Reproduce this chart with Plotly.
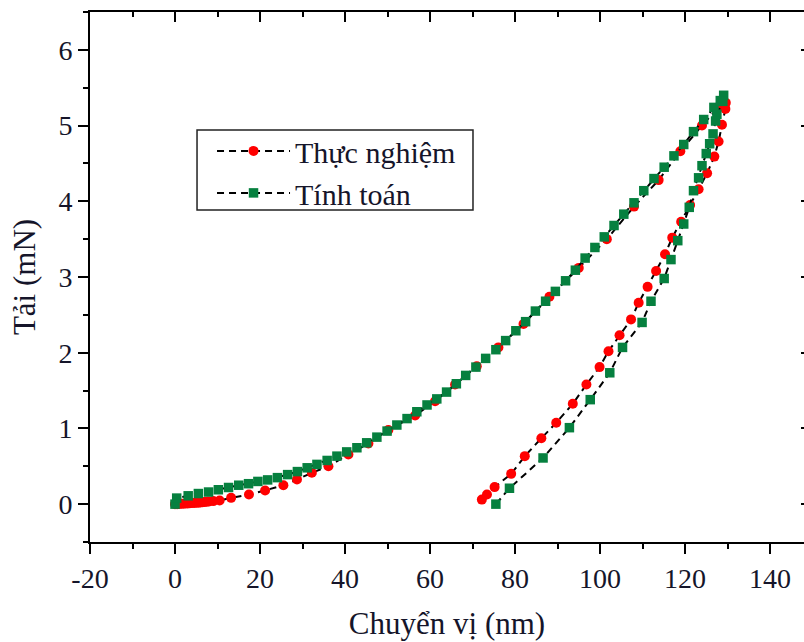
import plotly.graph_objects as go

# Thực nghiệm (measured) – loading branch
exp_load_x = [0.0, 0.5, 1.0, 1.5, 2.0, 2.5, 3.0, 3.5, 4.0, 4.5, 5.0, 5.5, 6.0, 6.5, 7.0, 7.5, 8.0, 9.0,
              10.5, 13.2, 17.4, 21.2, 25.5, 28.7, 32.2, 36.1, 40.8, 45.5, 50.2, 56.5, 61.2, 65.9,
              71.0, 76.1, 82.0, 88.1, 95.0, 101.6, 108.0, 113.8, 118.9, 124.0, 128.0, 129.6]
exp_load_y = [0.0, 0.0, 0.003, 0.005, 0.006, 0.008, 0.01, 0.012, 0.014, 0.016, 0.018, 0.02, 0.022, 0.025, 0.028, 0.031, 0.034, 0.04,
              0.049, 0.083, 0.128, 0.181, 0.25, 0.326, 0.414, 0.50, 0.657, 0.80, 0.98, 1.17, 1.36, 1.58,
              1.82, 2.07, 2.38, 2.74, 3.12, 3.50, 3.93, 4.28, 4.66, 5.00, 5.25, 5.30]
# Thực nghiệm (measured) – unloading branch
exp_unload_x = [129.5, 128.7, 127.9, 126.9, 125.2, 123.2, 121.2, 119.1, 117.0, 115.3, 113.2, 111.2, 109.1,
                107.3, 104.6, 102.0, 99.9, 96.8, 93.6, 89.7, 86.2, 82.3, 79.1, 75.2, 73.4, 72.2]
exp_unload_y = [5.22, 5.01, 4.79, 4.59, 4.37, 4.16, 3.95, 3.73, 3.52, 3.30, 3.08, 2.87, 2.66,
                2.44, 2.23, 2.02, 1.81, 1.58, 1.325, 1.075, 0.87, 0.634, 0.40, 0.225, 0.128, 0.06]

# Tính toán (computed) – loading branch
sim_load_x = [0.0, 0.4, 3.1, 5.5, 7.9, 10.2, 12.6, 15.0, 17.3, 19.5, 21.8, 24.1, 26.5, 28.8, 31.1, 33.4,
              35.8, 38.1, 40.4, 42.8, 45.1, 47.5, 49.9, 52.2, 54.6, 56.9, 59.3, 61.6, 63.9, 66.2, 68.4,
              70.8, 73.1, 75.5, 77.8, 80.2, 82.5, 84.8, 87.2, 89.5, 91.9, 94.2, 96.5, 98.8, 101.0, 103.3,
              105.6, 108.0, 110.3, 112.7, 115.1, 117.4, 119.7, 122.0, 124.4, 126.8, 128.3, 129.1]
sim_load_y = [0.0, 0.08, 0.11, 0.14, 0.16, 0.19, 0.22, 0.25, 0.27, 0.30, 0.32, 0.35, 0.39, 0.43, 0.48, 0.525,
              0.577, 0.634, 0.69, 0.745, 0.81, 0.885, 0.965, 1.045, 1.13, 1.22, 1.31, 1.39, 1.48, 1.59, 1.70,
              1.81, 1.925, 2.04, 2.16, 2.29, 2.41, 2.55, 2.68, 2.81, 2.95, 3.09, 3.25, 3.39, 3.53, 3.68,
              3.83, 3.98, 4.14, 4.30, 4.45, 4.60, 4.75, 4.92, 5.08, 5.24, 5.33, 5.40]
# Tính toán (computed) – unloading branch
sim_unload_x = [128.9, 127.5, 127.2, 126.6, 125.8, 125.0, 124.0, 123.2, 122.0, 121.0, 119.7, 118.3,
                116.7, 115.1, 112.0, 109.9, 105.3, 102.3, 97.7, 92.8, 86.6, 78.7, 75.5]
sim_unload_y = [5.32, 5.15, 5.06, 4.89, 4.76, 4.63, 4.47, 4.31, 4.14, 3.92, 3.70, 3.48,
                3.23, 2.98, 2.68, 2.40, 2.07, 1.735, 1.38, 1.01, 0.61, 0.21, 0.0]

series_names = ["Thực nghiệm", "Tính toán"]
x_ticks = [-20, 0, 20, 40, 60, 80, 100, 120, 140]
x_tick_text = ["-20", "0", "20", "40", "60", "80", "100", "120", "140"]
y_ticks = [0, 1, 2, 3, 4, 5, 6]

FONT = "Liberation Serif, Times New Roman, serif"
TXT = "#15152a"
RED = "#ff0000"
GREEN = "#06803f"
DASH = "7px,5px"

fig = go.Figure()

fig.add_trace(go.Scatter(
    x=exp_load_x + exp_unload_x, y=exp_load_y + exp_unload_y,
    mode="lines+markers", name=series_names[0],
    line=dict(color="black", width=2, dash=DASH),
    marker=dict(symbol="circle", size=10, color=RED, line=dict(width=0)),
))
fig.add_trace(go.Scatter(
    x=sim_load_x + sim_unload_x, y=sim_load_y + sim_unload_y,
    mode="lines+markers", name=series_names[1],
    line=dict(color="black", width=2, dash=DASH),
    marker=dict(symbol="square", size=9.5, color=GREEN, line=dict(width=0)),
))
# empty trace so the mirrored top/right axes get drawn
fig.add_trace(go.Scatter(x=[None], y=[None], xaxis="x2", yaxis="y2",
                         showlegend=False, hoverinfo="skip"))

axis_common = dict(linewidth=2, linecolor="black", showgrid=False,
                   zeroline=False, tickwidth=2, tickcolor="black", ticklen=10)
X_RANGE = [-20, 148]
Y_RANGE = [-0.5, 6.5]

fig.update_layout(
    width=804, height=642,
    margin=dict(l=90, r=0, t=12, b=100),
    paper_bgcolor="white", plot_bgcolor="white",
    font=dict(family=FONT, color=TXT, size=28),
    xaxis=dict(range=X_RANGE, tickvals=x_ticks, ticktext=x_tick_text, ticks="outside",
               showline=True,
               minor=dict(dtick=10, tick0=-20, ticks="outside", ticklen=5,
                          tickwidth=2, tickcolor="black"),
               tickfont=dict(size=28, family=FONT, color=TXT),
               title=dict(text="Chuyển vị (nm)", font=dict(size=31, family=FONT, color=TXT),
                          standoff=20),
               **axis_common),
    yaxis=dict(range=Y_RANGE, tickvals=y_ticks, ticks="outside", showline=True,
               minor=dict(dtick=0.5, tick0=0, ticks="outside", ticklen=5,
                          tickwidth=2, tickcolor="black"),
               tickfont=dict(size=28, family=FONT, color=TXT),
               title=dict(text="Tải (mN)", font=dict(size=31, family=FONT, color=TXT),
                          standoff=14),
               **axis_common),
    xaxis2=dict(range=X_RANGE, overlaying="x", side="top", tickvals=x_ticks,
                ticks="inside", showticklabels=False, showline=True,
                minor=dict(dtick=10, tick0=-20, ticks="inside", ticklen=5,
                           tickwidth=2, tickcolor="black"),
                **axis_common),
    yaxis2=dict(range=Y_RANGE, overlaying="y", side="right", tickvals=y_ticks,
                ticks="inside", showticklabels=False, showline=False,
                linewidth=2, linecolor="black", showgrid=False, zeroline=False,
                tickwidth=2, tickcolor="black", ticklen=3),
    legend=dict(x=0.1709, y=0.787, xanchor="left", yanchor="top",
                bgcolor="rgba(0,0,0,0)", borderwidth=0,
                font=dict(size=30, family=FONT, color=TXT),
                itemwidth=73, tracegroupgap=0),
    shapes=[dict(type="rect", xref="paper", yref="paper",
                 x0=0.1499, x1=0.5364, y0=0.6264, y1=0.7774,
                 line=dict(color="#222", width=1.5), fillcolor="rgba(0,0,0,0)",
                 layer="above")],
    showlegend=True,
)

fig.write_html("out.html")
